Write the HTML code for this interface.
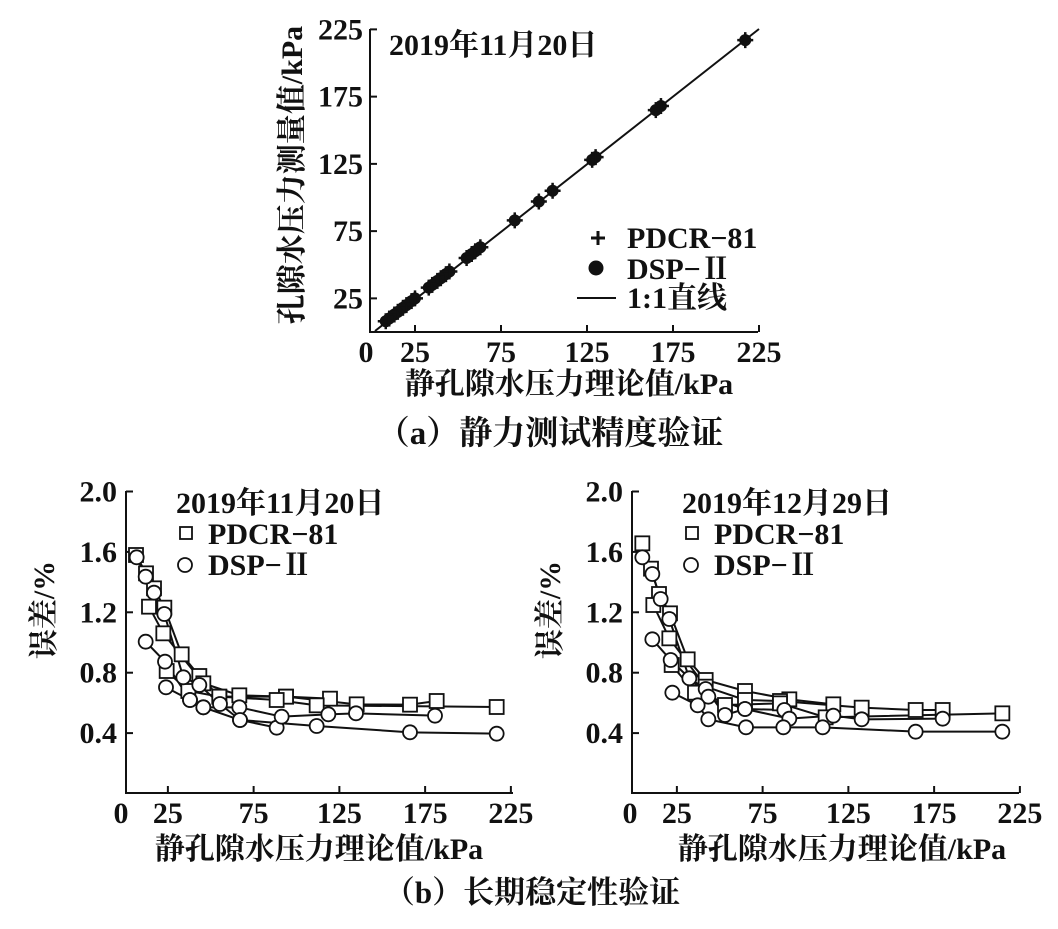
<!DOCTYPE html>
<html><head><meta charset="utf-8"><style>
body{margin:0;background:#fff;}
svg text{font-family:"Liberation Serif","Noto Serif CJK SC",serif;font-weight:bold;fill:#111;}
</style></head><body>
<svg id="s" width="1058" height="924" xmlns="http://www.w3.org/2000/svg">
<rect width="1058" height="924" fill="#fff"/>
</svg>
<script>
const s=document.getElementById('s');let h='';
function L(x1,y1,x2,y2,w){h+=`<line x1="${x1}" y1="${y1}" x2="${x2}" y2="${y2}" stroke="#111" stroke-width="${w||2}"/>`;}
function T(x,y,t,sz,anc,rot){h+=`<text x="${x}" y="${y}" font-size="${sz}" text-anchor="${anc||'middle'}" ${rot?`transform="rotate(-90 ${x} ${y})"`:''}>${t}</text>`;}
const FS=30;
// Panel a
L(370,29,370,333);L(369,332,758,332);
const ax=v=>372+1.72*v, ay=v=>332-1.345*v;
[25,75,125,175,225].forEach(v=>{L(370,ay(v),377,ay(v));T(363,ay(v)+10,v,FS,'end');});
[0,25,75,125,175,225].forEach(v=>{if(v)L(ax(v),332,ax(v),325);T(ax(v)-(v?0:6),362,v,FS);});
L(375,331,759,29,2);
[8,10,13,15,18,20,23,25,33,35,38,40,43,45,55,58,60,63,83,97,105,128,130,165,168,217].forEach(v=>{
 let x=ax(v),y=ay(v);h+=`<circle cx="${x}" cy="${y}" r="6" fill="#111"/>`;
 L(x-8,y,x+8,y,2.5);L(x,y-8,x,y+8,2.5);});
T(389,55,'2019年11月20日',FS,'start');
L(591,238,605,238,3);L(598,231,598,245,3);T(627,248,'PDCR−81',FS,'start');
h+=`<circle cx="596" cy="268" r="7.5" fill="#111"/>`;T(627,279,'DSP−Ⅱ',FS,'start');
L(577,298,616,298);T(627,308,'1:1直线',FS,'start');
T(302,175,'孔隙水压力测量值/kPa',FS,'middle',1);
T(569,394,'静孔隙水压力理论值/kPa',FS);
T(550,444,'（a）静力测试精度验证',33);
// Panel b
function panel(X0,ox,sq,ci,title){
 const y0=793.5, sy=151, sx=1.715;
 const px=v=>ox+sx*v;
 L(X0,491,X0,794);L(X0-1,793,X0+387,793);
 [0.4,0.8,1.2,1.6,2.0].forEach(v=>{let y=y0-v*sy;L(X0,y,X0+7,y);T(X0-9,y+10,v.toFixed(1),FS,'end');});
 [0,25,75,125,175,225].forEach(v=>{if(v)L(px(v),793,px(v),786);T(px(v)-(v?0:4),823,v,FS);});
 const OX=X0===126?30:540;
 const m=p=>[OX+p[0]/3,470+p[1]/3];
 sq.concat(ci).forEach(ser=>{let pts=ser.map(m);h+=`<polyline points="${pts.map(p=>p.join(',')).join(' ')}" fill="none" stroke="#111" stroke-width="2"/>`;});
 sq.forEach(ser=>ser.map(m).forEach(p=>{h+=`<rect x="${p[0]-7}" y="${p[1]-7}" width="14" height="14" fill="#fff" stroke="#111" stroke-width="1.8"/>`;}));
 ci.forEach(ser=>ser.map(m).forEach(p=>{h+=`<circle cx="${p[0]}" cy="${p[1]}" r="7" fill="#fff" stroke="#111" stroke-width="1.8"/>`;}));
 T(X0+50,513,title,FS,'start');
 h+=`<rect x="${X0+54}" y="527" width="12" height="12" fill="#fff" stroke="#111" stroke-width="1.8"/>`;T(X0+82,544,'PDCR−81',FS,'start');
 h+=`<circle cx="${X0+59}" cy="565" r="7" fill="#fff" stroke="#111" stroke-width="1.8"/>`;T(X0+82,575,'DSP−Ⅱ',FS,'start');
 T(X0-72,610,'误差/%',FS,'middle',1);
}
panel(126,125,[
 [[318,255],[348,310],[372,355],[403,413],[455,553],[508,618],[568,680],[768,680],[900,686]],
 [[357,410],[400,490],[520,640],[628,676],[768,680],[980,703],[1140,704],[1220,693]],
 [[410,603],[475,663],[568,680],[740,690],[860,706],[1400,711]]],
 [[[320,262],[347,320],[372,368],[403,432],[460,622],[508,645],[570,702],[630,750],[740,773]],
 [[347,515],[405,575],[480,690],[520,712],[628,712],[755,740],[895,733],[978,730],[1215,737]],
 [[408,652],[480,690],[520,712],[630,750],[860,768],[1140,787],[1400,791]]],'2019年11月20日');
panel(632,634,[
 [[307,220],[333,296],[357,372],[390,430],[443,568],[497,630],[615,663],[748,688],[880,703]],
 [[340,405],[388,505],[497,650],[615,690],[720,693],[965,713],[1127,720],[1208,720]],
 [[395,585],[465,668],[555,705],[720,700],[857,742],[1387,730]]],
 [[[307,262],[337,312],[362,387],[388,447],[448,625],[497,657],[555,735],[615,717],[733,720]],
 [[337,508],[392,570],[505,680],[615,717],[748,746],[880,737],[965,748],[1208,746]],
 [[397,668],[473,706],[505,748],[618,772],[730,772],[848,772],[1127,785],[1387,785]]],'2019年12月29日');
T(319,859,'静孔隙水压力理论值/kPa',FS);
T(842,859,'静孔隙水压力理论值/kPa',FS);
T(532,903,'（b）长期稳定性验证',31);
s.innerHTML+=h;
</script>
</body></html>
